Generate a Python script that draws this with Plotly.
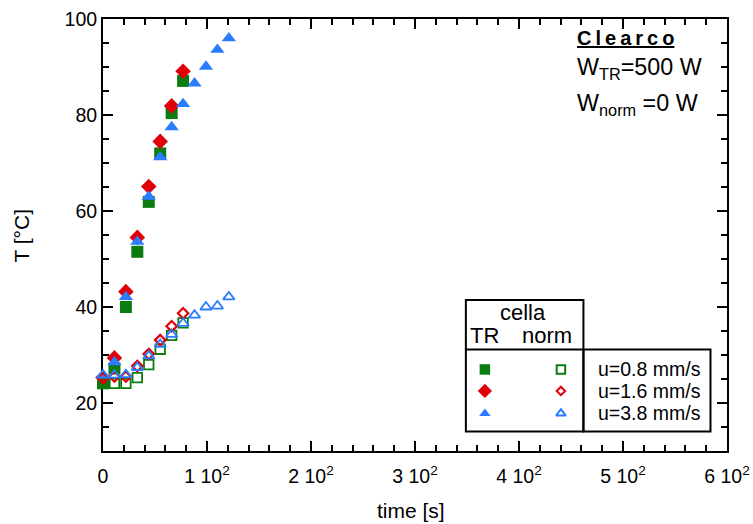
import plotly.graph_objects as go

# ---------------- data ----------------
t_short = [0, 11, 22, 33, 44, 55, 66, 77]
t_long = [0, 11, 22, 33, 44, 55, 66, 77, 88, 99, 110, 121]

tr_u08 = [24.1, 27.2, 40.0, 51.5, 61.9, 72.0, 80.4, 87.1]
tr_u16 = [25.3, 29.4, 43.2, 54.5, 65.1, 74.5, 81.9, 89.1]
tr_u38 = [25.8, 28.5, 42.1, 53.6, 63.0, 71.2, 77.5, 82.3, 86.6, 90.1, 93.6, 96.0]

norm_u08 = [24.1, 24.1, 24.1, 25.3, 28.0, 31.2, 34.1, 36.7]
norm_u16 = [25.2, 25.5, 25.5, 27.7, 30.2, 33.1, 36.0, 38.7]
norm_u38 = [25.8, 25.8, 25.9, 27.4, 29.8, 32.2, 34.3, 36.6, 38.3, 40.0, 40.2, 42.1]

x_tickvals = [0, 100, 200, 300, 400, 500, 600]
x_ticktext = ["0", "1 10<sup>2</sup>", "2 10<sup>2</sup>", "3 10<sup>2</sup>",
              "4 10<sup>2</sup>", "5 10<sup>2</sup>", "6 10<sup>2</sup>"]
y_tickvals = [20, 40, 60, 80, 100]

legend_labels = ["u=0.8 mm/s", "u=1.6 mm/s", "u=3.8 mm/s"]

GREEN = "#0b7d10"
RED = "#e0000a"
BLUE = "#2a7dff"
FONT = "Liberation Sans, Arial, Helvetica, sans-serif"

# plot-area pixel frame (for placing layout decorations)
PX0, PX1, PY0, PY1 = 103.3, 727.0, 19.3, 451.0


def px(xp):
    return (xp - PX0) / (PX1 - PX0)


def py(yp):
    return (PY1 - yp) / (PY1 - PY0)


fig = go.Figure()

# filled (TR) series
fig.add_trace(go.Scatter(x=t_short, y=tr_u08, mode="markers", cliponaxis=False,
                         marker=dict(symbol="square", size=12, color=GREEN)))
fig.add_trace(go.Scatter(x=t_short, y=tr_u16, mode="markers", cliponaxis=False,
                         marker=dict(symbol="diamond", size=12, color=RED)))
fig.add_trace(go.Scatter(x=t_long, y=tr_u38, mode="markers", cliponaxis=False,
                         marker=dict(symbol="triangle-up", size=12.5, color=BLUE)))
# open (norm) series
fig.add_trace(go.Scatter(x=t_short, y=norm_u08, mode="markers", cliponaxis=False,
                         marker=dict(symbol="square-open", size=9.5, color=GREEN,
                                     line=dict(width=1.8, color=GREEN))))
fig.add_trace(go.Scatter(x=t_short, y=norm_u16, mode="markers", cliponaxis=False,
                         marker=dict(symbol="diamond-open", size=8, color=RED,
                                     line=dict(width=2.2, color=RED))))
fig.add_trace(go.Scatter(x=t_long, y=norm_u38, mode="markers", cliponaxis=False,
                         marker=dict(symbol="triangle-up-open", size=10, color=BLUE,
                                     line=dict(width=1.8, color=BLUE))))

# ---------- legend table (overlay axis in pixel units) ----------
leg_rows_y = [369.5, 391, 413.5]
leg_x_tr = 485
leg_x_norm = 561
fill_syms = [("square", 10.5, GREEN), ("diamond", 11, RED), ("triangle-up", 10, BLUE)]
open_syms = [("square-open", 8.5, GREEN), ("diamond-open", 6.5, RED), ("triangle-up-open", 8.5, BLUE)]
for (sym, sz, col), yy in zip(fill_syms, leg_rows_y):
    fig.add_trace(go.Scatter(x=[leg_x_tr], y=[yy], xaxis="x2", yaxis="y2", mode="markers",
                             cliponaxis=False, marker=dict(symbol=sym, size=sz, color=col)))
for (sym, sz, col), yy in zip(open_syms, leg_rows_y):
    fig.add_trace(go.Scatter(x=[leg_x_norm], y=[yy], xaxis="x2", yaxis="y2", mode="markers",
                             cliponaxis=False,
                             marker=dict(symbol=sym, size=sz, color=col,
                                         line=dict(width=2, color=col))))

shapes = [
    dict(type="rect", xref="x2", yref="y2", x0=466, x1=583.5, y0=300, y1=431.5,
         line=dict(color="black", width=2), layer="above"),
    dict(type="rect", xref="x2", yref="y2", x0=583.5, x1=710.5, y0=349.5, y1=431.5,
         line=dict(color="black", width=2), layer="above"),
    dict(type="line", xref="x2", yref="y2", x0=466, x1=583.5, y0=349.5, y1=349.5,
         line=dict(color="black", width=2), layer="above"),
]

TS = "\u2009"
clearco = TS.join("Clearco")


def ann(text, xp, yp, size, xanchor="center", **kw):
    return dict(text=text, x=px(xp), y=py(yp), xref="paper", yref="paper", showarrow=False,
                font=dict(size=size, family=FONT, color="black"),
                xanchor=xanchor, yanchor="middle", **kw)


annotations = [
    ann("cella", 523, 313, 22),
    ann("TR", 485, 336, 22),
    ann("norm", 547, 336, 22),
    ann("<b><u>" + clearco + "</u></b>", 575, 38, 20, xanchor="left"),
    ann("W<sub>TR</sub>=500 W", 575, 69, 23.3, xanchor="left"),
    ann("W<sub>norm</sub> =0 W", 575, 105, 23.3, xanchor="left"),
    ann("time [s]", 411, 510, 21),
    ann("T [°C]", 22, 236, 21, textangle=-90),
]
for lab, yy in zip(legend_labels, leg_rows_y):
    annotations.append(ann(lab, 596, yy, 19.5, xanchor="left"))

fig.update_layout(
    width=753, height=524, autosize=False,
    margin=dict(l=103, r=26, t=19, b=73),
    plot_bgcolor="white", paper_bgcolor="white",
    showlegend=False,
    font=dict(family=FONT, color="black"),
    xaxis=dict(range=[0, 600], tickmode="array", tickvals=x_tickvals, ticktext=x_ticktext,
               ticks="inside", ticklen=10, tickwidth=1.5, tickcolor="black",
               minor=dict(dtick=20, tick0=0, ticks="inside", ticklen=6, tickwidth=1.5,
                          tickcolor="black", showgrid=False),
               showline=True, linewidth=2, linecolor="black", mirror="allticks",
               showgrid=False, zeroline=False, layer="below traces", automargin=False,
               tickfont=dict(size=19.5, family=FONT), ticklabelstandoff=7),
    yaxis=dict(range=[10, 100], tickmode="array", tickvals=y_tickvals,
               ticks="inside", ticklen=10, tickwidth=1.5, tickcolor="black",
               minor=dict(dtick=5, tick0=0, ticks="inside", ticklen=6, tickwidth=1.5,
                          tickcolor="black", showgrid=False),
               showline=True, linewidth=2, linecolor="black", mirror="allticks",
               showgrid=False, zeroline=False, layer="below traces", automargin=False,
               tickfont=dict(size=19.5, family=FONT)),
    xaxis2=dict(range=[PX0, PX1], domain=[0, 1], anchor="y2", overlaying="x",
                visible=False, automargin=False),
    yaxis2=dict(range=[PY1, PY0], domain=[0, 1], anchor="x2", overlaying="y",
                visible=False, automargin=False),
    shapes=shapes,
    annotations=annotations,
)

fig.write_html("out.html")
